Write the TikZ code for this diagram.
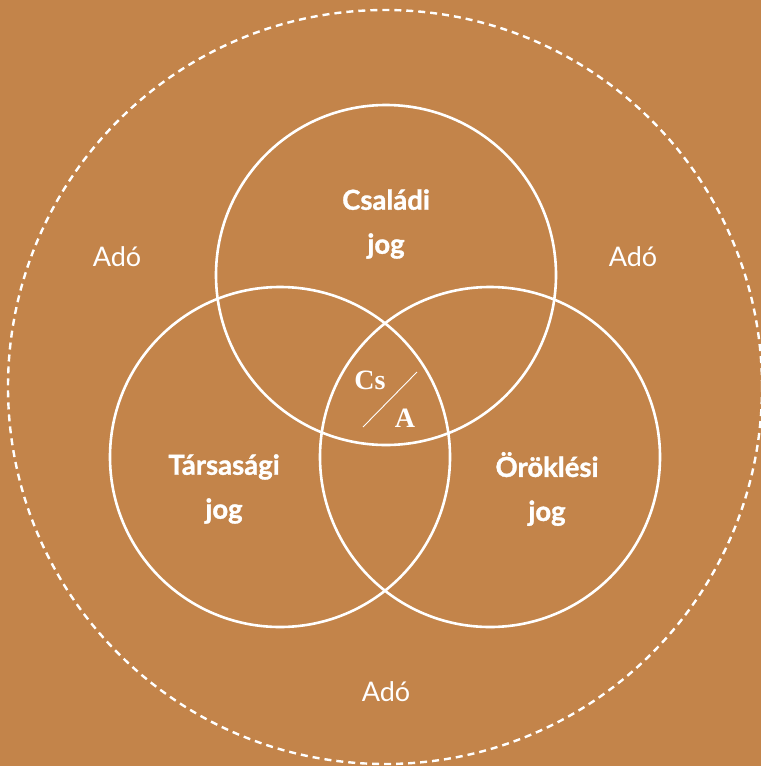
\documentclass[tikz,border=0pt]{standalone}
\usepackage{fontspec}
\setmainfont{Lato}
\newfontfamily\serifbold{Liberation Serif}
\newfontfamily\heavyfont{Lato}[UprightFont=*-Bold, FakeBold=1.2]
\usepackage{xcolor}
\definecolor{OchreBG}{HTML}{C3844A}
\usetikzlibrary{positioning}

\begin{document}
\begin{tikzpicture}[
    x=1pt, y=-1pt,
    ring/.style={draw=white, line width=2.6pt, circle, minimum size=340pt, inner sep=0pt},
    outer/.style={draw=white, line width=2.4pt, dash pattern=on 7pt off 5pt, circle, minimum size=754pt, inner sep=0pt},
    area/.style={text=white, font=\fontsize{27.5}{44}\heavyfont, align=center},
    tax/.style={text=white, font=\fontsize{27}{30}\selectfont},
    centremark/.style={text=white, font=\fontsize{28}{30}\serifbold\bfseries}
]
% background and frame
\fill[OchreBG] (0,0) rectangle (761,766);
\useasboundingbox (0,0) rectangle (761,766);
\node[outer] (ado) at (385,387) {};
% the three fields of law
\node[ring] (csaladi) at (386,275) {};
\node[ring] (tarsasagi) at (280,457) {};
\node[ring] (oroklesi) at (490,457) {};
\node[area] (csl) at (386,224) {Családi\\jog};
\node[area] (tsl) at (224,489) {Társasági\\jog};
\node[area] (orl) at (547,489) {Öröklési\\jog};
% tax labels
\node[tax] (adoleft) at (117,257) {Adó};
\node[tax] (adoright) at (633,257) {Adó};
\node[tax] (adobottom) at (386,692) {Adó};
% centre mark
\node[centremark] (cs) at (370,380) {Cs};
\node[centremark] (a) at (405,418) {A};
\coordinate (slashlow) at (363,427);
\coordinate (slashhigh) at (417,372);
\draw[white, line width=0.9pt] (slashlow) -- (slashhigh);
\end{tikzpicture}
\end{document}
